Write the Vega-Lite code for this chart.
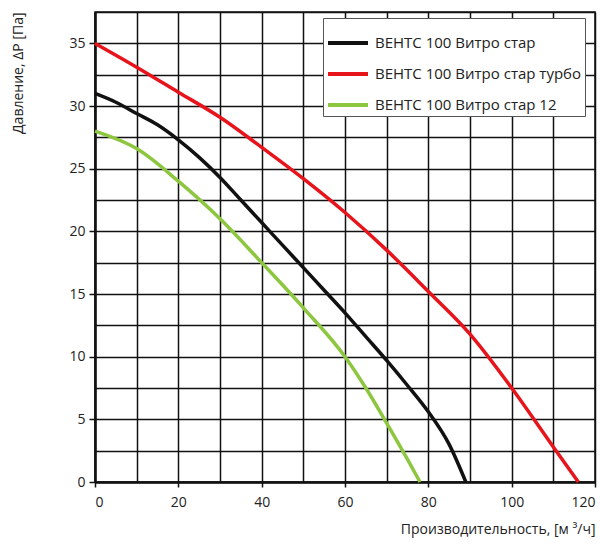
{
  "$schema": "https://vega.github.io/schema/vega-lite/v6.json",
  "width": 500,
  "height": 470,
  "autosize": "none",
  "padding": {"left": 95, "top": 12, "right": 5, "bottom": 67},
  "background": "white",
  "config": {
    "font": "Open Sans",
    "view": {"stroke": "#111", "strokeWidth": 1.5},
    "axis": {
      "labelFont": "Open Sans",
      "titleFont": "Open Sans",
      "labelFontSize": 14,
      "titleFontSize": 14,
      "labelColor": "#222",
      "titleColor": "#222",
      "titleFontWeight": "normal",
      "tickColor": "#111",
      "domainColor": "#111",
      "gridColor": "#111",
      "gridOpacity": 1
    },
    "legend": {
      "orient": "none",
      "legendX": 228,
      "legendY": 6,
      "fillColor": "white",
      "strokeColor": "#555",
      "padding": 3,
      "rowPadding": 1,
      "symbolType": "stroke",
      "symbolSize": 1600,
      "symbolStrokeWidth": 4,
      "labelFont": "Open Sans",
      "labelFontSize": 15,
      "labelColor": "#222",
      "labelOffset": 5,
      "labelLimit": 400
    }
  },
  "data": {
    "values": [
      {"series": "ВЕНТС 100 Витро стар", "q": 0, "p": 31},
      {"series": "ВЕНТС 100 Витро стар", "q": 5, "p": 30.3},
      {"series": "ВЕНТС 100 Витро стар", "q": 10, "p": 29.4},
      {"series": "ВЕНТС 100 Витро стар", "q": 15, "p": 28.5},
      {"series": "ВЕНТС 100 Витро стар", "q": 20, "p": 27.3},
      {"series": "ВЕНТС 100 Витро стар", "q": 25, "p": 25.9},
      {"series": "ВЕНТС 100 Витро стар", "q": 30, "p": 24.3},
      {"series": "ВЕНТС 100 Витро стар", "q": 35, "p": 22.5},
      {"series": "ВЕНТС 100 Витро стар", "q": 40, "p": 20.7},
      {"series": "ВЕНТС 100 Витро стар", "q": 45, "p": 18.9},
      {"series": "ВЕНТС 100 Витро стар", "q": 50, "p": 17.1},
      {"series": "ВЕНТС 100 Витро стар", "q": 55, "p": 15.3},
      {"series": "ВЕНТС 100 Витро стар", "q": 60, "p": 13.5},
      {"series": "ВЕНТС 100 Витро стар", "q": 65, "p": 11.6},
      {"series": "ВЕНТС 100 Витро стар", "q": 70, "p": 9.7},
      {"series": "ВЕНТС 100 Витро стар", "q": 75, "p": 7.7},
      {"series": "ВЕНТС 100 Витро стар", "q": 80, "p": 5.6},
      {"series": "ВЕНТС 100 Витро стар", "q": 85, "p": 3},
      {"series": "ВЕНТС 100 Витро стар", "q": 89, "p": 0},
      {"series": "ВЕНТС 100 Витро стар турбо", "q": 0, "p": 35},
      {"series": "ВЕНТС 100 Витро стар турбо", "q": 10, "p": 33.1},
      {"series": "ВЕНТС 100 Витро стар турбо", "q": 20, "p": 31.1},
      {"series": "ВЕНТС 100 Витро стар турбо", "q": 30, "p": 29.1},
      {"series": "ВЕНТС 100 Витро стар турбо", "q": 40, "p": 26.7},
      {"series": "ВЕНТС 100 Витро стар турбо", "q": 50, "p": 24.2},
      {"series": "ВЕНТС 100 Витро стар турбо", "q": 60, "p": 21.5},
      {"series": "ВЕНТС 100 Витро стар турбо", "q": 70, "p": 18.5},
      {"series": "ВЕНТС 100 Витро стар турбо", "q": 80, "p": 15.2},
      {"series": "ВЕНТС 100 Витро стар турбо", "q": 90, "p": 11.8},
      {"series": "ВЕНТС 100 Витро стар турбо", "q": 100, "p": 7.5},
      {"series": "ВЕНТС 100 Витро стар турбо", "q": 110, "p": 2.8},
      {"series": "ВЕНТС 100 Витро стар турбо", "q": 116, "p": 0},
      {"series": "ВЕНТС 100 Витро стар 12", "q": 0, "p": 28},
      {"series": "ВЕНТС 100 Витро стар 12", "q": 10, "p": 26.6},
      {"series": "ВЕНТС 100 Витро стар 12", "q": 20, "p": 24},
      {"series": "ВЕНТС 100 Витро стар 12", "q": 30, "p": 21},
      {"series": "ВЕНТС 100 Витро стар 12", "q": 40, "p": 17.5},
      {"series": "ВЕНТС 100 Витро стар 12", "q": 50, "p": 13.9},
      {"series": "ВЕНТС 100 Витро стар 12", "q": 60, "p": 10},
      {"series": "ВЕНТС 100 Витро стар 12", "q": 65, "p": 7.5},
      {"series": "ВЕНТС 100 Витро стар 12", "q": 70, "p": 4.7},
      {"series": "ВЕНТС 100 Витро стар 12", "q": 75, "p": 1.8},
      {"series": "ВЕНТС 100 Витро стар 12", "q": 78, "p": 0}
    ]
  },
  "layer": [
    {
      "mark": {"type": "line", "opacity": 0},
      "encoding": {
        "x": {
          "field": "q", "type": "quantitative",
          "scale": {"domain": [0, 120], "nice": false},
          "axis": {"orient": "bottom", "values": [0, 10, 20, 30, 40, 50, 60, 70, 80, 90, 100, 110, 120], "grid": true, "gridWidth": 1.5, "labels": false, "ticks": false, "domain": false, "title": null}
        },
        "y": {
          "field": "p", "type": "quantitative",
          "scale": {"domain": [0, 37.5], "nice": false},
          "axis": {"orient": "left", "values": [0, 2.5, 5, 7.5, 10, 12.5, 15, 17.5, 20, 22.5, 25, 27.5, 30, 32.5, 35, 37.5], "grid": true, "gridWidth": 1.5, "labels": false, "ticks": false, "domain": false, "title": null}
        },
        "detail": {"field": "series"}
      }
    },
    {
      "mark": {"type": "line", "strokeWidth": 3.5, "interpolate": "monotone"},
      "encoding": {
        "x": {
          "field": "q", "type": "quantitative",
          "axis": {"orient": "bottom", "values": [0, 20, 40, 60, 80, 100, 120], "grid": false, "domainWidth": 2.5, "tickSize": 5, "tickWidth": 1.5, "labelPadding": 8,
            "title": "Производительность, [м ³/ч]", "titleAnchor": "end", "titleAlign": "right", "titleX": 500, "titleY": 40, "titleBaseline": "top"}
        },
        "y": {
          "field": "p", "type": "quantitative",
          "axis": {"orient": "left", "values": [0, 5, 10, 15, 20, 25, 30, 35], "grid": false, "domainWidth": 2.5, "tickSize": 6, "tickWidth": 1.5, "labelPadding": 4,
            "title": "Давление, ΔP [Па]", "titleAnchor": "end", "titleAlign": "right", "titleAngle": -90, "titleX": -77, "titleY": 0, "titleBaseline": "middle"}
        },
        "color": {
          "field": "series", "type": "nominal", "title": null,
          "scale": {
            "domain": ["ВЕНТС 100 Витро стар", "ВЕНТС 100 Витро стар турбо", "ВЕНТС 100 Витро стар 12"],
            "range": ["#111111", "#e8141c", "#8dc63f"]
          }
        }
      }
    }
  ],
  "resolve": {"axis": {"x": "independent", "y": "independent"}}
}
